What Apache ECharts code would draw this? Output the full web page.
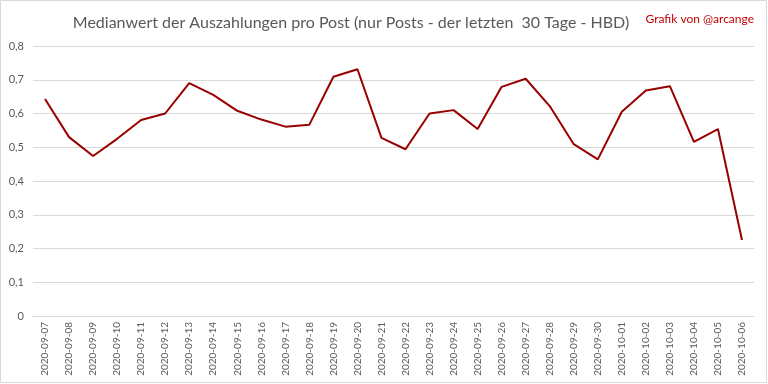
<!DOCTYPE html>
<html><head><meta charset="utf-8">
<script src="https://cdn.jsdelivr.net/npm/echarts@6/dist/echarts.min.js"></script>
<style>html,body{margin:0;padding:0;background:#fff}#c{width:768px;height:384px}</style>
</head><body><div id="c"></div>
<script>
const categories = ["2020-09-07","2020-09-08","2020-09-09","2020-09-10","2020-09-11","2020-09-12","2020-09-13","2020-09-14","2020-09-15","2020-09-16","2020-09-17","2020-09-18","2020-09-19","2020-09-20","2020-09-21","2020-09-22","2020-09-23","2020-09-24","2020-09-25","2020-09-26","2020-09-27","2020-09-28","2020-09-29","2020-09-30","2020-10-01","2020-10-02","2020-10-03","2020-10-04","2020-10-05","2020-10-06"];
const medianValues = [0.643,0.530,0.474,0.525,0.581,0.600,0.690,0.655,0.608,0.582,0.561,0.567,0.709,0.731,0.528,0.494,0.600,0.610,0.554,0.679,0.703,0.622,0.509,0.464,0.605,0.668,0.681,0.516,0.554,0.225];
const titleText = "Medianwert der Auszahlungen pro Post (nur Posts - der letzten  30 Tage - HBD)";
const creditText = "Grafik von @arcange";

const chart = echarts.init(document.getElementById('c'), null, {renderer:'canvas'});
chart.setOption({
  backgroundColor:'#fff',
  animation:false,
  title:[{text:titleText,left:346,top:10,textAlign:'center',textStyle:{fontFamily:'Lato',fontSize:16,fontWeight:'normal',color:'#595959'}},
         {text:creditText,right:9,top:8,textStyle:{fontFamily:'Lato',fontSize:12,fontWeight:'normal',color:'#c00000'}}],
  graphic:[{type:'rect',shape:{x:0.5,y:0.5,width:766,height:382},style:{fill:'none',stroke:'#d9d9d9',lineWidth:1},silent:true}],
  grid:{left:33,right:14,top:46,bottom:68,containLabel:false},
  xAxis:{type:'category',data:categories,boundaryGap:true,
    axisLine:{show:true,lineStyle:{color:'#d9d9d9'}},axisTick:{show:false},
    axisLabel:{rotate:90,interval:0,fontFamily:'Lato',fontSize:10,color:'#595959',margin:6}},
  yAxis:{type:'value',min:0,max:0.8,interval:0.1,
    axisLine:{show:false},axisTick:{show:false},
    splitLine:{lineStyle:{color:'#d9d9d9'}},
    axisLabel:{fontFamily:'Lato',fontSize:11,color:'#595959',margin:9,formatter:v=>v===0?'0':v.toFixed(1).replace('.',',')}},
  series:[{type:'line',data:medianValues,symbol:'none',lineStyle:{color:'#990000',width:2}}]
});
</script></body></html>
